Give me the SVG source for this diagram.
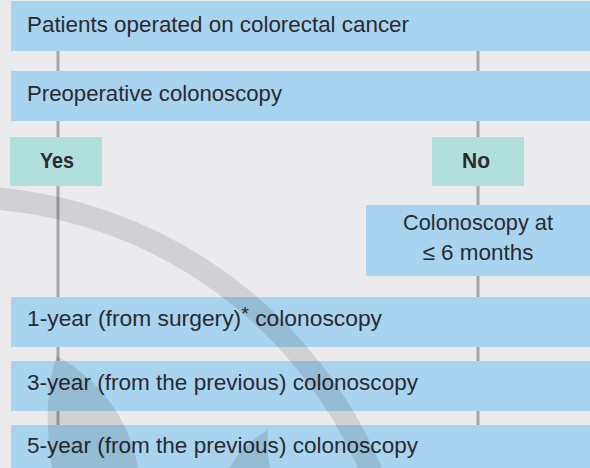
<svg xmlns="http://www.w3.org/2000/svg" width="590" height="468" viewBox="0 0 590 468">
<style>
.bg{fill:#EBEBEE}
.box{fill:#A8D4F0}
.tag{fill:#B1DFDC}
.conn{stroke:#A6A6AA;stroke-width:3;fill:none}
text{font-family:"Liberation Sans",Arial,sans-serif;font-size:22px;fill:#2A2A30}
.b{font-weight:bold}
.c{text-anchor:middle}
.wm{fill:none;stroke:#000;stroke-opacity:0.11;stroke-width:22}
.wmf{fill:#000;fill-opacity:0.11}
</style>
<rect class="bg" x="0" y="0" width="590" height="468"/>
<g id="connectors">
<line class="conn" x1="58" y1="51" x2="58" y2="71"/>
<line class="conn" x1="58" y1="121" x2="58" y2="137"/>
<line class="conn" x1="58" y1="186" x2="58" y2="297"/>
<line class="conn" x1="58" y1="347" x2="58" y2="361"/>
<line class="conn" x1="58" y1="411" x2="58" y2="425"/>
<line class="conn" x1="478" y1="51" x2="478" y2="71"/>
<line class="conn" x1="478" y1="121" x2="478" y2="137"/>
<line class="conn" x1="478" y1="186" x2="478" y2="205"/>
<line class="conn" x1="478" y1="276" x2="478" y2="297"/>
<line class="conn" x1="478" y1="347" x2="478" y2="361"/>
<line class="conn" x1="478" y1="411" x2="478" y2="425"/>
</g>
<g id="n1"><rect class="box" x="11" y="1" width="579" height="50"/><text x="27" y="32" textLength="382" lengthAdjust="spacingAndGlyphs">Patients operated on colorectal cancer</text></g>
<g id="n2"><rect class="box" x="11" y="71" width="579" height="50"/><text x="27" y="101" textLength="255" lengthAdjust="spacingAndGlyphs">Preoperative colonoscopy</text></g>
<g id="yes"><rect class="tag" x="10" y="137" width="92" height="49"/><text class="b c" x="57" y="168" textLength="34" lengthAdjust="spacingAndGlyphs">Yes</text></g>
<g id="no"><rect class="tag" x="432" y="137" width="92" height="49"/><text class="b c" x="476" y="168" textLength="28" lengthAdjust="spacingAndGlyphs">No</text></g>
<g id="n3"><rect class="box" x="366" y="205" width="224" height="71"/><text class="c" x="478" y="230" textLength="150" lengthAdjust="spacingAndGlyphs">Colonoscopy at</text><text class="c" x="478" y="260" textLength="111" lengthAdjust="spacingAndGlyphs">≤ 6 months</text></g>
<g id="n4"><rect class="box" x="11" y="297" width="579" height="50"/><text x="27" y="326" textLength="355" lengthAdjust="spacingAndGlyphs">1-year (from surgery)<tspan font-size="19" dy="-6">*</tspan><tspan dy="6"> colonoscopy</tspan></text></g>
<g id="n5"><rect class="box" x="11" y="361" width="579" height="50"/><text x="27" y="390" textLength="391" lengthAdjust="spacingAndGlyphs">3-year (from the previous) colonoscopy</text></g>
<g id="n6"><rect class="box" x="11" y="425" width="579" height="50"/><text x="27" y="453" textLength="391" lengthAdjust="spacingAndGlyphs">5-year (from the previous) colonoscopy</text></g>
<g id="watermark">
<path class="wm" d="M -10 198 A 450 450 0 0 1 375 480"/>
<path class="wmf" d="M 57 356 C 44 390 47 440 52 468 L 138 468 C 130 420 100 380 57 356 Z"/>
<path class="wmf" d="M 268 430 C 250 440 236 455 230 468 L 270 468 C 268 455 267 442 268 430 Z"/>
</g>
</svg>
